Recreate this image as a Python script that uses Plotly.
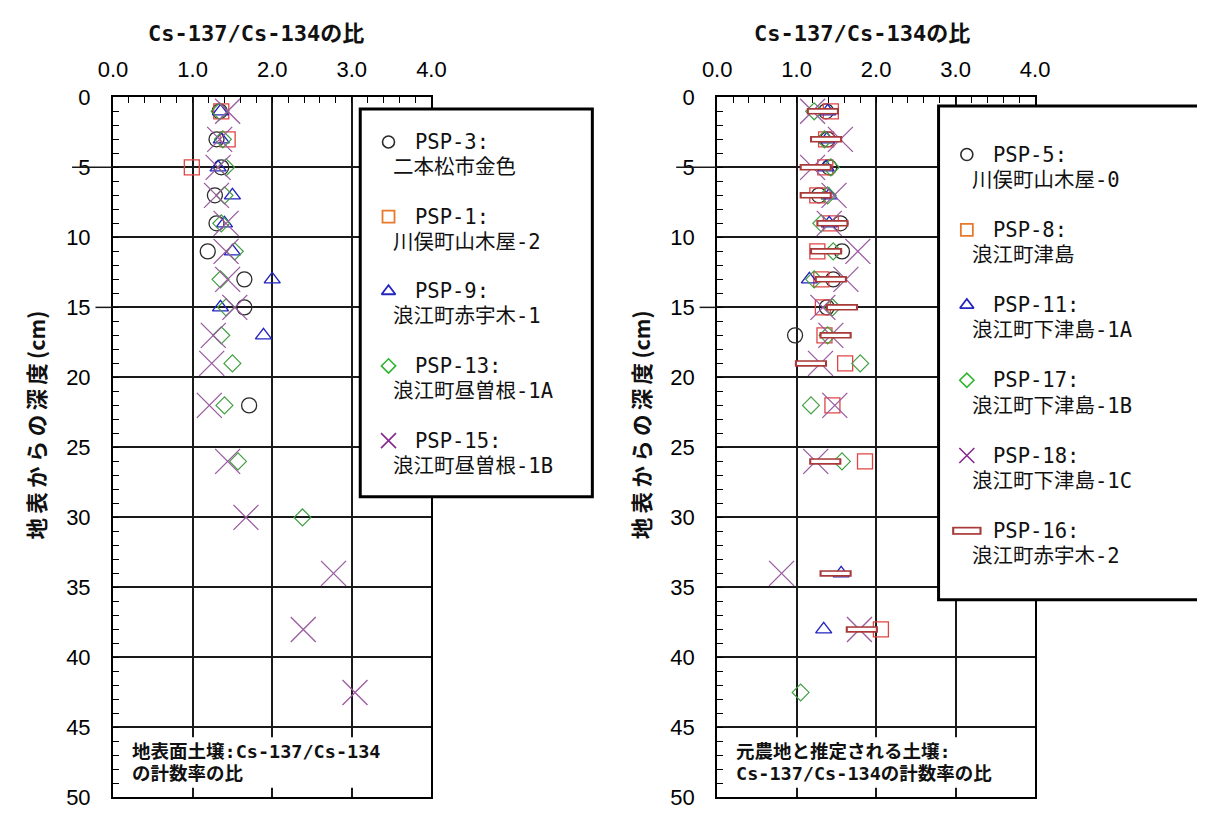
import plotly.graph_objects as go

# ---------------- data: Cs-137/Cs-134 ratio vs depth (cm) ----------------
# Left panel: surface soils
psp3_depth = [1, 3, 5, 7, 9, 11, 13, 15, 22]
psp3_ratio = [1.34, 1.30, 1.36, 1.28, 1.30, 1.19, 1.65, 1.65, 1.71]

psp1_depth = [1, 3, 5]
psp1_ratio = [1.36, 1.44, 0.99]

psp9_depth = [1, 3, 5, 7, 9, 11, 13, 15, 17]
psp9_ratio = [1.35, 1.36, 1.32, 1.50, 1.40, 1.50, 2.00, 1.35, 1.89]

psp13_depth = [1, 3, 5, 7, 9, 11, 13, 15, 17, 19, 22, 26, 30]
psp13_ratio = [1.34, 1.38, 1.42, 1.40, 1.36, 1.53, 1.35, 1.42, 1.36, 1.50, 1.40, 1.57, 2.38]

psp15_depth = [1, 3, 5, 7, 9, 11, 13, 15, 17, 19, 22, 26, 30, 34, 38, 42.5]
psp15_ratio = [1.44, 1.34, 1.32, 1.30, 1.42, 1.42, 1.44, 1.53, 1.26, 1.24, 1.21, 1.44,
               1.67, 2.77, 2.39, 3.04]

# Right panel: soils presumed to be former farmland
psp5_depth = [1, 3, 5, 7, 9, 11, 13, 15, 17]
psp5_ratio = [1.37, 1.39, 1.41, 1.28, 1.55, 1.57, 1.46, 1.38, 0.98]

psp8_depth = [1, 3, 5, 7, 9, 11, 13, 15, 17, 19, 22, 26, 38]
psp8_ratio = [1.43, 1.37, 1.36, 1.26, 1.43, 1.26, 1.31, 1.33, 1.35, 1.61, 1.45, 1.86, 2.06]

psp11_depth = [1, 3, 5, 7, 9, 13, 34, 38]
psp11_ratio = [1.39, 1.38, 1.37, 1.41, 1.41, 1.16, 1.56, 1.34]

psp17_depth = [1, 3, 5, 7, 9, 11, 13, 15, 17, 19, 22, 26, 42.5]
psp17_ratio = [1.22, 1.35, 1.43, 1.39, 1.31, 1.46, 1.22, 1.45, 1.39, 1.80, 1.18, 1.57, 1.05]

psp18_depth = [1, 3, 5, 7, 9, 11, 13, 15, 17, 19, 22, 26, 34, 38]
psp18_ratio = [1.20, 1.55, 1.20, 1.47, 1.41, 1.77, 1.62, 1.33, 1.43, 1.30, 1.48, 1.24,
               0.81, 1.79]

psp16_depth = [1, 3, 5, 7, 9, 11, 13, 15, 17, 19, 26, 34, 38]
psp16_ratio = [1.33, 1.37, 1.24, 1.24, 1.45, 1.37, 1.43, 1.57, 1.49, 1.18, 1.36, 1.49, 1.82]

x_ticks = [0, 1, 2, 3, 4]
x_tick_labels = ["0.0", "1.0", "2.0", "3.0", "4.0"]
y_ticks = [0, 5, 10, 15, 20, 25, 30, 35, 40, 45, 50]

x_title = "Cs-137/Cs-134の比"
y_title = "地\u2009表\u2009か\u2009ら\u2009の\u2009深\u2009度\u2009(cm)"

left_legend = [
    ("PSP-3:", "二本松市金色"),
    ("PSP-1:", "川俣町山木屋-2"),
    ("PSP-9:", "浪江町赤宇木-1"),
    ("PSP-13:", "浪江町昼曽根-1A"),
    ("PSP-15:", "浪江町昼曽根-1B"),
]
right_legend = [
    ("PSP-5:", "川俣町山木屋-0"),
    ("PSP-8:", "浪江町津島"),
    ("PSP-11:", "浪江町下津島-1A"),
    ("PSP-17:", "浪江町下津島-1B"),
    ("PSP-18:", "浪江町下津島-1C"),
    ("PSP-16:", "浪江町赤宇木-2"),
]
left_note = ["地表面土壌:Cs-137/Cs-134", "の計数率の比"]
right_note = ["元農地と推定される土壌:", "Cs-137/Cs-134の計数率の比"]

# ---------------- page geometry (pixels) ----------------
FW, FH = 1212, 825

JP = "DejaVu Sans Mono, Noto Sans CJK JP"
JP_PROP = "Noto Sans CJK JP"
NUM = "Liberation Sans, Arial, sans-serif"

C_CIRCLE = "#2a2a2a"
C_SQUARE = "#e04545"
C_SQUARE_LEG = "#e8782a"
C_TRI = "#2424c0"
C_DIAM = "#3f9f3f"
C_DIAM_LEG = "#2fb52f"
C_X = "#9a5aa0"
C_X_LEG = "#862a8e"
C_RECT = "#a83a3a"

STY = {
    "circle": dict(symbol="circle-open", size=15, color=C_CIRCLE, lw=1.3),
    "square": dict(symbol="square-open", size=15, color=C_SQUARE, lw=1.3),
    "tri": dict(symbol="triangle-up-open", size=14, color=C_TRI, lw=1.4),
    "diam": dict(symbol="diamond-open", size=13, color=C_DIAM, lw=1.2),
    "x": dict(symbol="x-thin-open", size=25, color=C_X, lw=1.3),
}


def px_x(p):
    return p / FW


def px_y(p):
    return 1 - p / FH


fig = go.Figure()


def add_series(xs, ys, kind, xa, ya, name):
    s = STY[kind]
    fig.add_trace(go.Scatter(
        x=xs, y=ys, mode="markers", name=name, showlegend=False,
        xaxis=xa, yaxis=ya, cliponaxis=False,
        marker=dict(symbol=s["symbol"], size=s["size"], color=s["color"],
                    line=dict(color=s["color"], width=s["lw"])),
    ))


def add_rect_series(xs, ys, xa, ya, name):
    # elongated rectangle marker: thick dark bar with a white core
    fig.add_trace(go.Scatter(
        x=xs, y=ys, mode="markers", name=name, showlegend=False,
        xaxis=xa, yaxis=ya, cliponaxis=False,
        marker=dict(symbol="line-ew", size=23, color=C_RECT,
                    line=dict(color=C_RECT, width=6.5)),
    ))
    fig.add_trace(go.Scatter(
        x=xs, y=ys, mode="markers", showlegend=False, hoverinfo="skip",
        xaxis=xa, yaxis=ya, cliponaxis=False,
        marker=dict(symbol="line-ew", size=20, color="white",
                    line=dict(color="white", width=3.2)),
    ))


# left panel
add_series(psp3_ratio, psp3_depth, "circle", "x", "y", "PSP-3")
add_series(psp1_ratio, psp1_depth, "square", "x", "y", "PSP-1")
add_series(psp9_ratio, psp9_depth, "tri", "x", "y", "PSP-9")
add_series(psp13_ratio, psp13_depth, "diam", "x", "y", "PSP-13")
add_series(psp15_ratio, psp15_depth, "x", "x", "y", "PSP-15")

# right panel
add_series(psp5_ratio, psp5_depth, "circle", "x2", "y2", "PSP-5")
add_series(psp8_ratio, psp8_depth, "square", "x2", "y2", "PSP-8")
add_series(psp11_ratio, psp11_depth, "tri", "x2", "y2", "PSP-11")
add_series(psp17_ratio, psp17_depth, "diam", "x2", "y2", "PSP-17")
add_series(psp18_ratio, psp18_depth, "x", "x2", "y2", "PSP-18")
add_rect_series(psp16_ratio, psp16_depth, "x2", "y2", "PSP-16")

# ---------------- axes ----------------
ydom = [px_y(810), px_y(88)]


def xaxis(dom, anchor):
    return dict(
        domain=dom, anchor=anchor, range=[0, 4], side="top",
        tickvals=x_ticks, ticktext=x_tick_labels,
        tickfont=dict(family=NUM, size=22, color="#000"),
        ticks="inside", ticklen=0, ticklabelstandoff=10,
        showgrid=True, gridcolor="#1a1a1a", gridwidth=1.5,
        showline=True, linecolor="black", linewidth=2, mirror=True,
        minor=dict(dtick=0.2, ticks="inside", ticklen=6, tickcolor="black",
                   tickwidth=1.2, showgrid=False),
        zeroline=False, fixedrange=True,
    )


def yaxis(anchor):
    return dict(
        domain=ydom, anchor=anchor, range=[50, 0],
        tickvals=y_ticks, tickfont=dict(family=NUM, size=22, color="#000"),
        ticks="inside", ticklen=0, ticklabelstandoff=16,
        showgrid=True, gridcolor="#1a1a1a", gridwidth=1.5,
        showline=True, linecolor="black", linewidth=2, mirror=True,
        minor=dict(dtick=1, ticks="inside", ticklen=6, tickcolor="black",
                   tickwidth=1.2, showgrid=False),
        zeroline=False, fixedrange=True,
    )


fig.update_layout(
    width=FW, height=FH, margin=dict(l=0, r=0, t=0, b=0),
    paper_bgcolor="white", plot_bgcolor="rgba(0,0,0,0)", showlegend=False,
    xaxis=xaxis([px_x(100.5), px_x(427)], "y"),
    yaxis=yaxis("x"),
    xaxis2=xaxis([px_x(720), px_x(1046)], "y2"),
    yaxis2=yaxis("x2"),
    # overlay in page-pixel units used for the legend panels
    xaxis3=dict(domain=[0, 1], range=[0, FW], visible=False,
                fixedrange=True, anchor="y3"),
    yaxis3=dict(domain=[0, 1], range=[FH, 0], visible=False,
                fixedrange=True, anchor="x3"),
)

shapes = []
annotations = []

# white note boxes at the bottom of each panel
for xa, ya in (("x", "y"), ("x2", "y2")):
    shapes.append(dict(type="rect", xref=xa, yref=ya, x0=0.07, x1=3.96,
                       y0=45.7, y1=49.3, fillcolor="white",
                       line=dict(width=0), layer="between"))

# short leader lines left of the axis at 5 cm and 15 cm
for ya, ax_px in (("y", 100.5), ("y2", 720)):
    for depth, length in ((5, 42), (15, 18)):
        shapes.append(dict(type="line", xref="paper", yref=ya,
                           x0=px_x(ax_px - length), x1=px_x(ax_px),
                           y0=depth, y1=depth,
                           line=dict(color="#1a1a1a", width=1.5)))

for (x0, lines) in ((118, left_note), (737, right_note)):
    for i, t in enumerate(lines):
        annotations.append(dict(
            xref="paper", yref="paper", x=px_x(x0), y=px_y(763 + 22 * i),
            text="<b>" + t + "</b>", showarrow=False, xanchor="left",
            yanchor="middle", font=dict(family=JP, size=18.5, color="#111")))

# axis titles
for cx in (247, 869):
    annotations.append(dict(
        xref="paper", yref="paper", x=px_x(cx), y=px_y(22),
        text="<b>" + x_title + "</b>", showarrow=False,
        xanchor="center", yanchor="middle",
        font=dict(family=JP, size=22, color="#111")))
for cx in (21, 641):
    annotations.append(dict(
        xref="paper", yref="paper", x=px_x(cx), y=px_y(426),
        text="<b>" + y_title + "</b>", showarrow=False, textangle=-90,
        xanchor="center", yanchor="middle",
        font=dict(family=JP_PROP, size=21.5, color="#111")))

# legend panels
for (bx0, by0, bx1, by1) in ((354, 100, 592, 500), (947, 97, 1230, 606)):
    shapes.append(dict(type="rect", xref="x3", yref="y3", x0=bx0, x1=bx1,
                       y0=by0, y1=by1, fillcolor="white",
                       line=dict(color="black", width=3), layer="between"))

LEG_STY = {
    "circle": dict(symbol="circle-open", size=12, color=C_CIRCLE, lw=1.6),
    "square": dict(symbol="square-open", size=12, color=C_SQUARE_LEG, lw=1.8),
    "tri": dict(symbol="triangle-up-open", size=12, color=C_TRI, lw=1.8),
    "diam": dict(symbol="diamond-open", size=11, color=C_DIAM_LEG, lw=1.6),
    "x": dict(symbol="x-thin-open", size=15, color=C_X_LEG, lw=1.6),
}


def legend_block(entries, kinds, sym_x, txt_x, sub_x, y0, step):
    for i, ((head, sub), kind) in enumerate(zip(entries, kinds)):
        yy = y0 + step * i
        if kind == "rect":
            fig.add_trace(go.Scatter(
                x=[sym_x], y=[yy], mode="markers", showlegend=False,
                xaxis="x3", yaxis="y3", hoverinfo="skip",
                marker=dict(symbol="line-ew", size=21, color=C_RECT,
                            line=dict(color=C_RECT, width=8))))
            fig.add_trace(go.Scatter(
                x=[sym_x], y=[yy], mode="markers", showlegend=False,
                xaxis="x3", yaxis="y3", hoverinfo="skip",
                marker=dict(symbol="line-ew", size=18, color="white",
                            line=dict(color="white", width=4.6))))
        else:
            s = LEG_STY[kind]
            fig.add_trace(go.Scatter(
                x=[sym_x], y=[yy], mode="markers", showlegend=False,
                xaxis="x3", yaxis="y3", hoverinfo="skip",
                marker=dict(symbol=s["symbol"], size=s["size"],
                            color=s["color"],
                            line=dict(color=s["color"], width=s["lw"]))))
        annotations.append(dict(
            xref="paper", yref="paper", x=px_x(txt_x), y=px_y(yy),
            text=head, showarrow=False, xanchor="left", yanchor="middle",
            font=dict(family=JP, size=20.5, color="#111")))
        annotations.append(dict(
            xref="paper", yref="paper", x=px_x(sub_x), y=px_y(yy + 26),
            text=sub, showarrow=False, xanchor="left", yanchor="middle",
            font=dict(family=JP, size=20.5, color="#111")))


legend_block(left_legend, ["circle", "square", "tri", "diam", "x"],
             383, 408, 386, 134, 77)
legend_block(right_legend, ["circle", "square", "tri", "diam", "x", "rect"],
             976, 1001, 979, 147, 77.6)

fig.update_layout(shapes=shapes, annotations=annotations)
fig.write_html("out.html")
